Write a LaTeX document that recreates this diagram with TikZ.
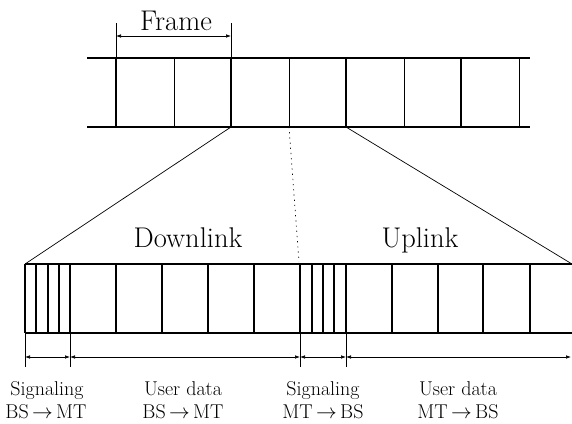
\documentclass[tikz,border=0pt]{standalone}
\usetikzlibrary{arrows.meta}
\begin{document}
\begin{tikzpicture}[x=1pt,y=-1pt,
  thickln/.style={line width=1.9pt},
  thinln/.style={line width=0.8pt},
  slotln/.style={line width=1.2pt},
  diag/.style={line width=0.7pt},
  ext/.style={line width=0.7pt},
  dimarrow/.style={line width=0.7pt,{Latex[length=5pt,width=3.6pt]}-{Latex[length=5pt,width=3.6pt]}},
  big/.style={font=\fontsize{28.5}{32}\selectfont,anchor=base,inner sep=0pt},
  lab/.style={font=\fontsize{20}{24}\selectfont,anchor=base,inner sep=0pt}]
\useasboundingbox (0,0) rectangle (572,423);
% ---------- top strip ----------
\coordinate (tl) at (87,58);  \coordinate (tr) at (530,58);
\coordinate (bl) at (87,127); \coordinate (br) at (530,127);
\draw[thickln] (tl) -- (tr);
\draw[thickln] (bl) -- (br);
\foreach \x in {116,231,346,461} {
  \coordinate (T\x) at (\x,58); \coordinate (B\x) at (\x,127);
  \draw[thickln] (T\x) -- (B\x);
}
\foreach \x in {174,289,404,519} {
  \coordinate (T\x) at (\x,58); \coordinate (B\x) at (\x,127);
  \draw[thinln] (T\x) -- (B\x);
}
% frame dimension
\coordinate (fa) at (116,23); \coordinate (fb) at (231,23);
\coordinate (fa2) at (116,36); \coordinate (fb2) at (231,36);
\draw[ext] (fa) -- (T116);
\draw[ext] (fb) -- (T231);
\draw[dimarrow] (fa2) -- (fb2);
\node[big] (frame) at (176,30) {Frame};
% ---------- lower strip ----------
\coordinate (Ltl) at (25,264);  \coordinate (Ltr) at (572,264);
\coordinate (Lbl) at (25,333);  \coordinate (Lbr) at (572,333);
\draw[slotln] (Ltl) -- (Ltr);
\draw[slotln] (Lbl) -- (Lbr);
\foreach \x in {25,36,48,59,70,116,162,208,254,300,312,323,334,346,392,438,483,530} {
  \coordinate (U\x) at (\x,264); \coordinate (D\x) at (\x,333);
  \draw[slotln] (U\x) -- (D\x);
}
% zoom lines
\coordinate (dotend) at (299,262);
\draw[diag] (B231) -- (Ltl);
\draw[diag] (B346) -- (Ltr);
\draw[diag, dash pattern=on 1.2pt off 4pt] (B289) -- (dotend);
\node[big] (down) at (188,247) {Downlink};
\node[big] (up) at (420,247) {Uplink};
% ---------- dimensions ----------
\foreach \x in {25,70,300,346} {
  \coordinate (E\x) at (\x,367); \coordinate (A\x) at (\x,357);
  \draw[ext] (D\x) -- (E\x);
}
\coordinate (A571) at (571,357);
\draw[dimarrow] (A25) -- (A70);
\draw[dimarrow] (A70) -- (A300);
\draw[dimarrow] (A300) -- (A346);
\draw[dimarrow] (A346) -- (A571);
% ---------- labels ----------
\node[lab] (s1) at (47,395) {Signaling};
\node[lab] (s1b) at (46,418) {BS\,$\rightarrow$\,MT};
\node[lab] (u1) at (183,395) {User data};
\node[lab] (u1b) at (183,418) {BS\,$\rightarrow$\,MT};
\node[lab] (s2) at (323,395) {Signaling};
\node[lab] (s2b) at (323,418) {MT\,$\rightarrow$\,BS};
\node[lab] (u2) at (458,395) {User data};
\node[lab] (u2b) at (458,418) {MT\,$\rightarrow$\,BS};
\end{tikzpicture}
\end{document}
